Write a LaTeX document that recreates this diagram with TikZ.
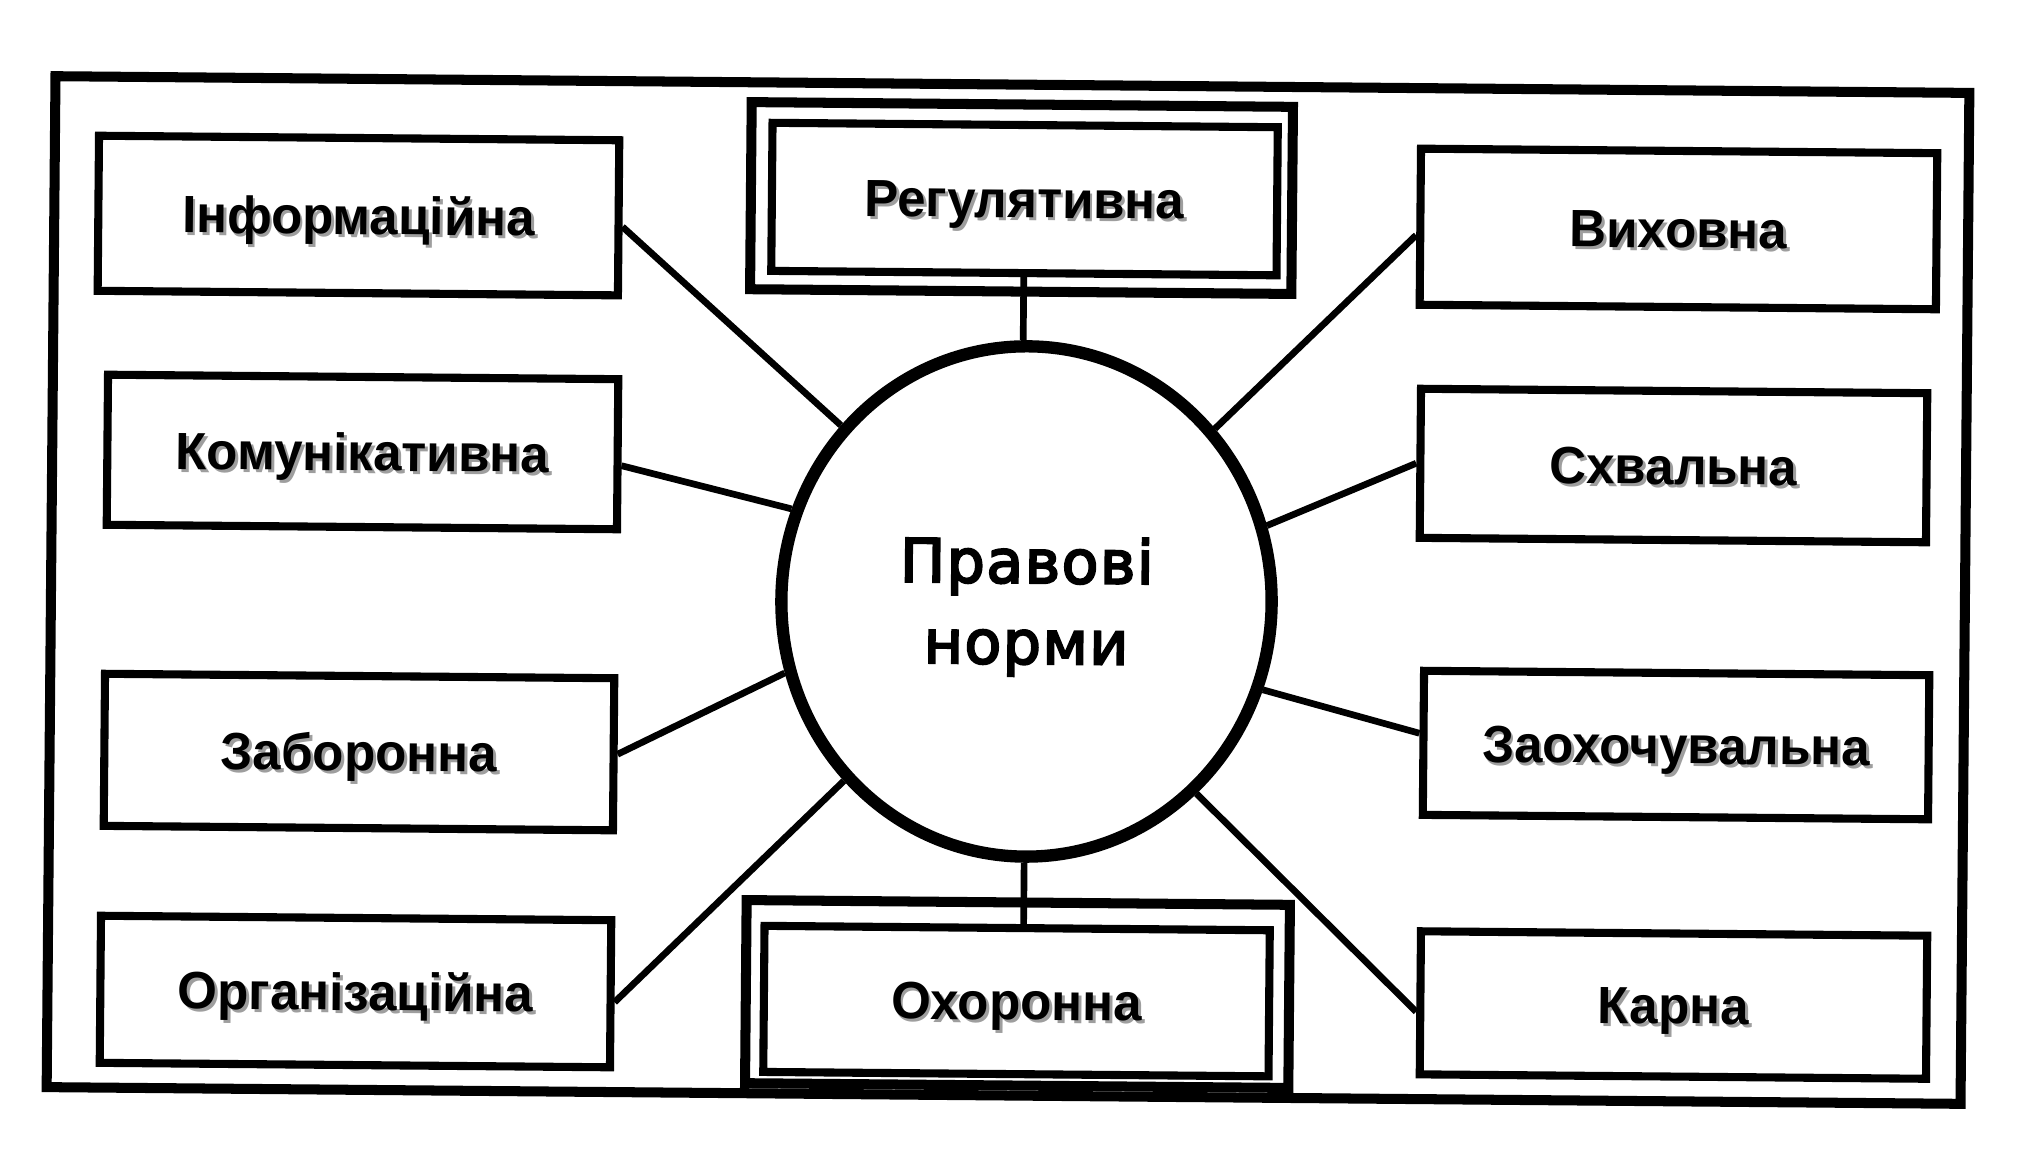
\documentclass[tikz,border=0pt]{standalone}
\usepackage{fontspec}
\setmainfont{Liberation Sans}
\newfontfamily\dejavu{DejaVu Sans}[FakeBold=3.5, LetterSpace=2.5]
\usetikzlibrary{shapes.geometric}
\newcommand{\shtext}[1]{\scalebox{0.975}[1]{\makebox[0pt][l]{\hspace{0.85pt}\raisebox{-0.85pt}{\textcolor{black!38}{#1}}}#1}}
\begin{document}
\begin{tikzpicture}[x=0.01cm,y=-0.01cm,
  box/.style={draw, line width=2.3pt, rectangle, inner sep=0pt,
    font=\bfseries\fontsize{14.9}{16}\selectfont, text height=10.67pt, text depth=0pt},
  obox/.style={draw, line width=2.85pt, rectangle, inner sep=0pt},
  link/.style={line width=1.9pt},
  centre/.style={draw, ellipse, line width=3.5pt, inner sep=0pt, align=center,
    font=\dejavu\fontsize{17.1}{23}\selectfont}]
\fill[white] (0,0) rectangle (2030,1172);
\useasboundingbox (0,0) rectangle (2030,1172);
\begin{scope}[rotate around={-0.5:(1008,590)}, transform shape]
\draw[line width=2.85pt] (51,84.5) rectangle (1965,1095.5);
% centre
\node[centre, minimum width=4.9cm, minimum height=5.1cm] (c) at (1026.6,601.3) {\rule{0pt}{16pt}Правові\\норми};
% left column
\node[box, minimum width=5.20cm, minimum height=1.55cm] (inf) at (355.2,221.2) {\shtext{Інформаційна}};
\node[box, minimum width=5.10cm, minimum height=1.50cm] (kom) at (361.3,457.6) {\shtext{Комунікативна}};
\node[box, minimum width=5.09cm, minimum height=1.52cm] (zab) at (360.4,757.7) {\shtext{Заборонна}};
\node[box, minimum width=5.10cm, minimum height=1.47cm] (org) at (359,997.2) {\shtext{Організаційна}};
% right column
\node[box, minimum width=5.16cm, minimum height=1.56cm] (vyh) at (1675.3,223.1) {\shtext{Виховна}};
\node[box, minimum width=5.06cm, minimum height=1.49cm] (shv) at (1672.4,459.7) {\shtext{Схвальна}};
\node[box, minimum width=5.05cm, minimum height=1.44cm] (zaoh) at (1677.4,739.2) {\shtext{Заохочувальна}};
\node[box, minimum width=5.06cm, minimum height=1.43cm] (karna) at (1677.1,999.2) {\shtext{Карна}};
% double boxes
\node[obox, minimum width=5.41cm, minimum height=1.87cm] (regO) at (1018.1,197.9) {};
\node[box, minimum width=5.05cm, minimum height=1.48cm] (reg) at (1021.1,198.9) {\shtext{Регулятивна}};
\node[obox, minimum width=5.43cm, minimum height=1.83cm] (ohO) at (1021,993.9) {};
\node[box, minimum width=5.05cm, minimum height=1.46cm] (oh) at (1020.1,1001) {\shtext{Охоронна}};
% connectors
\draw[link] ([yshift=-0.09cm]inf.east) -- (c.137);
\draw[link] ([yshift=-0.115cm]kom.east) -- (c.159);
\draw[link] (zab.east) -- (c.197);
\draw[link] ([yshift=-0.085cm]org.east) -- (c.225);
\draw[link] ([yshift=-0.085cm]vyh.west) -- (c.43);
\draw[link] (shv.west) -- (c.18);
\draw[link] ([yshift=0.095cm]zaoh.west) -- (c.340);
\draw[link] ([yshift=-0.09cm]karna.west) -- (c.312);
\draw[link] (reg.south) -- (reg.south |- c.north);
\draw[link] (c.south) -- (c.south |- oh.north);
\end{scope}
\end{tikzpicture}
\end{document}
